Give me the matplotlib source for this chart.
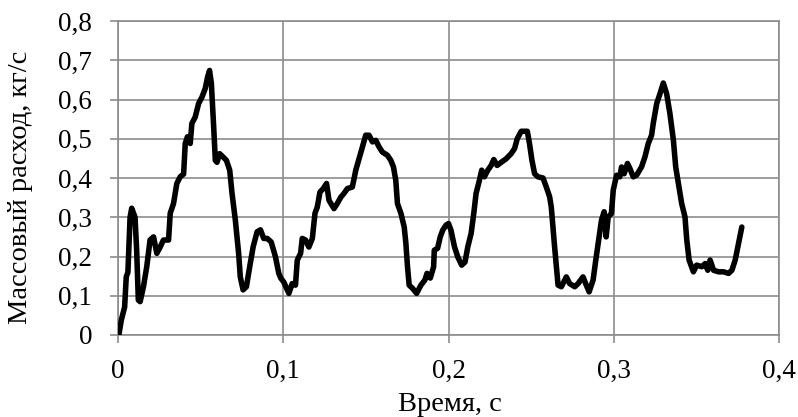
import matplotlib
matplotlib.use("Agg")
import matplotlib.pyplot as plt
from matplotlib.ticker import FuncFormatter

time_s = [0.0005, 0.002, 0.004, 0.005, 0.006, 0.0073, 0.0083, 0.0103, 0.0113, 0.0123,
          0.0134, 0.0154, 0.0174, 0.0194, 0.0215, 0.0235, 0.0255, 0.0275, 0.0306, 0.0316,
          0.0336, 0.0356, 0.0376, 0.0397, 0.0407, 0.042, 0.0437, 0.0447, 0.0467, 0.0488,
          0.0508, 0.0528, 0.0542, 0.0554, 0.0565, 0.0579, 0.0589, 0.0599, 0.0615, 0.0635,
          0.0656, 0.0676, 0.069, 0.071, 0.073, 0.074, 0.0757, 0.0777, 0.0797, 0.0818,
          0.0842, 0.0862, 0.0882, 0.0903, 0.0927, 0.0953, 0.0973, 0.0985, 0.1003, 0.1034,
          0.1054, 0.1074, 0.1085, 0.1105, 0.1115, 0.1135, 0.1155, 0.1176, 0.1192, 0.1206,
          0.1222, 0.1242, 0.1262, 0.1277, 0.1307, 0.1327, 0.1348, 0.1368, 0.1388, 0.1418,
          0.1439, 0.1459, 0.1479, 0.1499, 0.1519, 0.154, 0.156, 0.158, 0.16, 0.163,
          0.1651, 0.1667, 0.1681, 0.1691, 0.1712, 0.1732, 0.1742, 0.1752, 0.1762, 0.1782,
          0.1807, 0.1833, 0.1857, 0.187, 0.189, 0.191, 0.1914, 0.1934, 0.195, 0.1965,
          0.1985, 0.2, 0.2015, 0.2036, 0.2056, 0.208, 0.21, 0.2117, 0.2137, 0.2153,
          0.2167, 0.2187, 0.2201, 0.2217, 0.2238, 0.2258, 0.2274, 0.2294, 0.2319, 0.2349,
          0.2379, 0.24, 0.2416, 0.244, 0.2477, 0.249, 0.2505, 0.2521, 0.2541, 0.2572,
          0.2592, 0.2612, 0.2622, 0.2642, 0.2663, 0.2683, 0.2713, 0.2733, 0.2764, 0.2784,
          0.2814, 0.283, 0.2851, 0.2875, 0.2891, 0.2909, 0.2926, 0.2942, 0.2954, 0.2966,
          0.2986, 0.2997, 0.3017, 0.3037, 0.3047, 0.3063, 0.3083, 0.3098, 0.3118, 0.3138,
          0.3168, 0.3189, 0.3209, 0.3229, 0.3239, 0.326, 0.328, 0.330, 0.332, 0.334,
          0.3361, 0.3375, 0.3395, 0.3411, 0.3431, 0.3442, 0.3456, 0.3482, 0.3502, 0.3533,
          0.3553, 0.3569, 0.3583, 0.3604, 0.3634, 0.3664, 0.3695, 0.3715, 0.3735, 0.3755,
          0.3775]

mass_flow = [0.0, 0.038, 0.071, 0.148, 0.16, 0.30, 0.323, 0.30, 0.216, 0.089,
             0.085, 0.123, 0.174, 0.242, 0.25, 0.208, 0.224, 0.242, 0.242, 0.31,
             0.335, 0.386, 0.403, 0.41, 0.488, 0.505, 0.488, 0.539, 0.555, 0.59,
             0.606, 0.628, 0.657, 0.674, 0.641, 0.53, 0.445, 0.44, 0.462, 0.454,
             0.445, 0.42, 0.361, 0.293, 0.208, 0.148, 0.115, 0.123, 0.174, 0.225,
             0.263, 0.268, 0.246, 0.246, 0.237, 0.199, 0.157, 0.145, 0.135, 0.106,
             0.131, 0.127, 0.191, 0.208, 0.246, 0.242, 0.224, 0.246, 0.31, 0.326,
             0.364, 0.373, 0.386, 0.343, 0.322, 0.335, 0.351, 0.361, 0.373, 0.377,
             0.42, 0.449, 0.479, 0.509, 0.509, 0.492, 0.496, 0.479, 0.466, 0.458,
             0.445, 0.428, 0.394, 0.335, 0.31, 0.275, 0.234, 0.174, 0.127, 0.119,
             0.106, 0.127, 0.14, 0.157, 0.145, 0.174, 0.216, 0.221, 0.25, 0.267,
             0.28, 0.284, 0.267, 0.225, 0.199, 0.178, 0.186, 0.225, 0.259, 0.31,
             0.361, 0.394, 0.42, 0.403, 0.42, 0.432, 0.447, 0.432, 0.44, 0.449,
             0.462, 0.475, 0.5, 0.519, 0.519, 0.488, 0.445, 0.411, 0.403, 0.4,
             0.377, 0.352, 0.326, 0.225, 0.127, 0.123, 0.148, 0.131, 0.123, 0.131,
             0.148, 0.131, 0.11, 0.14, 0.19, 0.242, 0.293, 0.314, 0.25, 0.30,
             0.31, 0.369, 0.407, 0.403, 0.428, 0.411, 0.437, 0.424, 0.403, 0.407,
             0.428, 0.454, 0.488, 0.509, 0.539, 0.59, 0.615, 0.642, 0.615, 0.564,
             0.496, 0.428, 0.377, 0.335, 0.301, 0.242, 0.191, 0.161, 0.178, 0.174,
             0.182, 0.165, 0.191, 0.165, 0.161, 0.161, 0.157, 0.165, 0.191, 0.233,
             0.275]

x_ticks = [0, 0.1, 0.2, 0.3, 0.4]
y_ticks = [0, 0.1, 0.2, 0.3, 0.4, 0.5, 0.6, 0.7, 0.8]
x_label = "Время, с"
y_label = "Массовый расход, кг/с"

plt.rcParams['font.family'] = ['Liberation Serif', 'DejaVu Serif']

fig = plt.figure(figsize=(7.98, 4.17), dpi=100)
ax = fig.add_axes([118/798, 1 - 335/417, (779-118)/798, (335-21)/417])

grid_c = '#8c8c8c'
ax.plot(time_s, mass_flow, color='black', lw=4.0,
        solid_joinstyle='round', solid_capstyle='round', zorder=3)

ax.set_xlim(0, 0.4)
ax.set_ylim(0, 0.8)
ax.set_xticks(x_ticks)
ax.set_yticks(y_ticks)

def fmt(v, pos):
    s = f"{v:.1f}"
    if s in ("0.0", "-0.0"):
        return "0"
    return s.replace('.', ',')

ax.xaxis.set_major_formatter(FuncFormatter(fmt))
ax.yaxis.set_major_formatter(FuncFormatter(fmt))

ax.grid(True, color=grid_c, lw=1.2)
ax.set_axisbelow(True)
for sp in ax.spines.values():
    sp.set_color(grid_c)
    sp.set_linewidth(1.2)

ax.tick_params(axis='both', direction='out', length=5.5, width=1.2, color=grid_c,
               labelsize=19.5, labelcolor='black')
ax.tick_params(axis='x', pad=12)
ax.tick_params(axis='y', pad=13)

ax.set_xlabel(x_label, fontsize=20.5)
ax.set_ylabel(y_label, fontsize=20.5)
ax.xaxis.set_label_coords(0.5015, -0.18)
ax.yaxis.set_label_coords(-0.128, 0.471)

fig.savefig("out.png", dpi=100)
